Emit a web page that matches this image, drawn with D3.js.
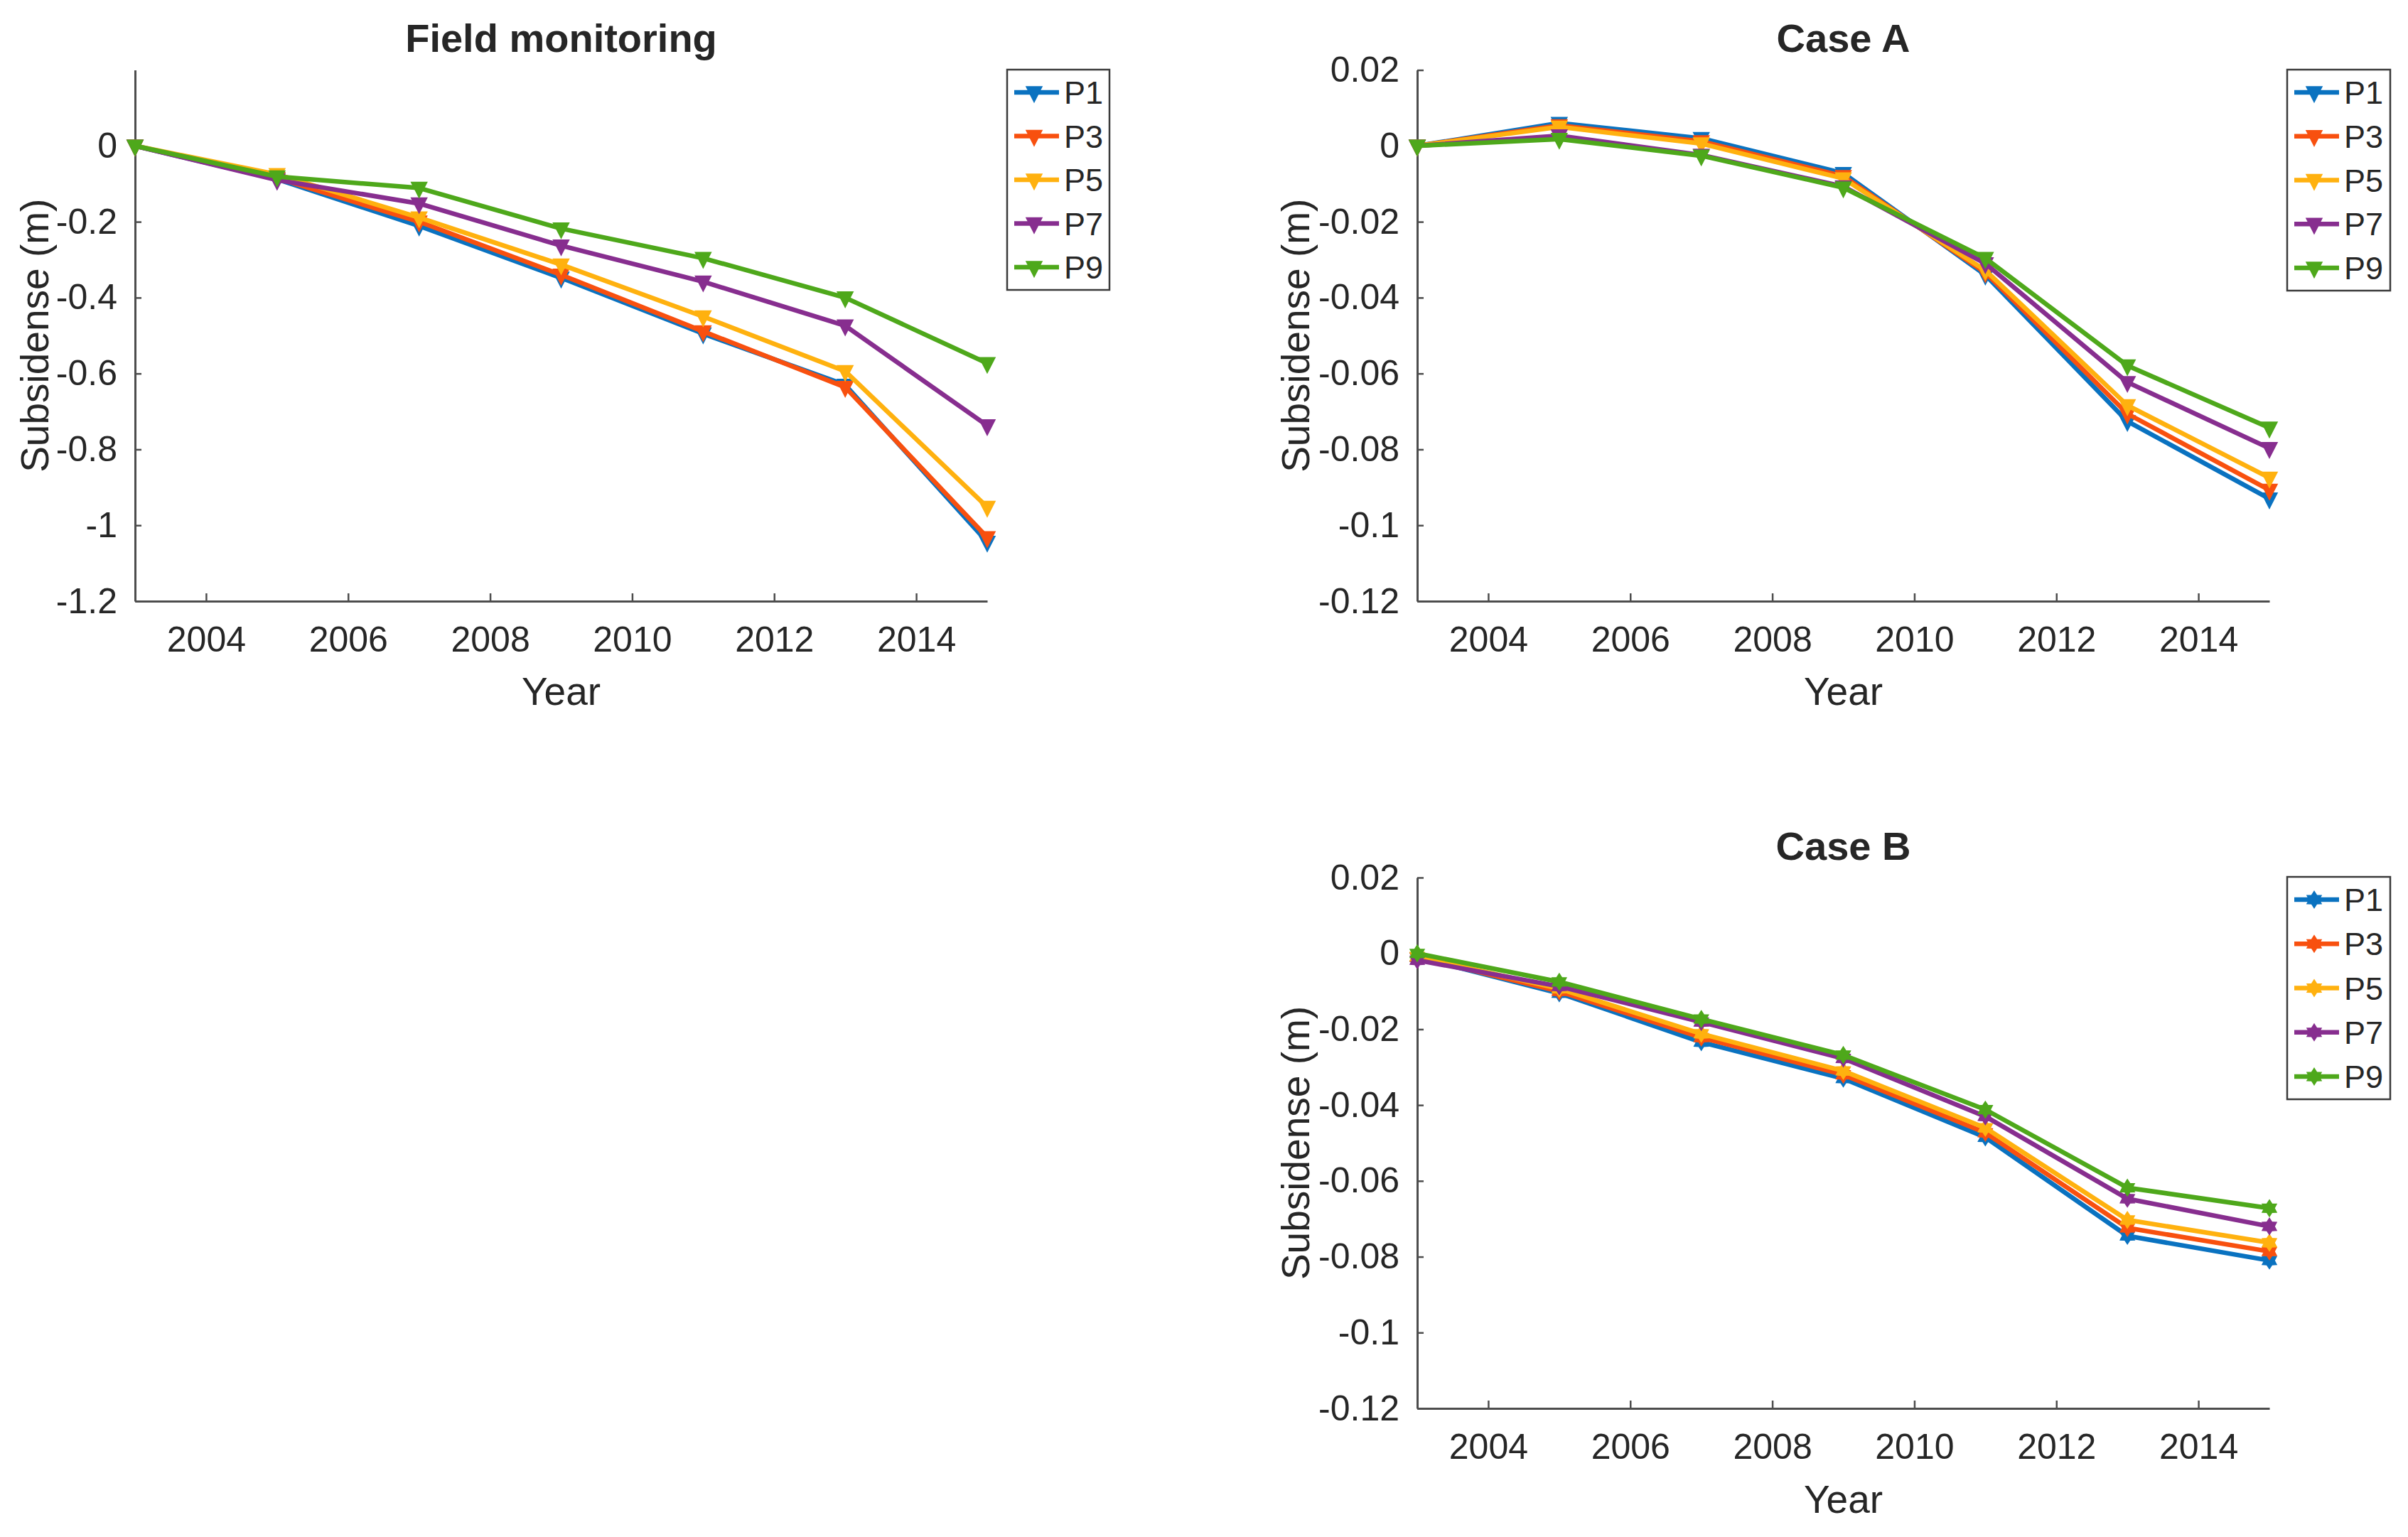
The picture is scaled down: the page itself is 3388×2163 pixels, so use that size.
<!DOCTYPE html>
<html>
<head>
<meta charset="utf-8">
<script src="https://cdn.jsdelivr.net/npm/d3@7"></script>
<style>
  body { margin: 0; background: #fff; }
  svg { display: block; }
  text { font-family: "Liberation Sans", Arial, sans-serif; fill: #262626; }
</style>
</head>
<body>
<svg id="chart" width="3388" height="2163"></svg>
<script>
// ---- data ----
var years = [2003, 2005, 2007, 2009, 2011, 2013, 2015];
var seriesNames = ["P1", "P3", "P5", "P7", "P9"];
var seriesColors = ["#0a72c0", "#f8500f", "#ffb10f", "#872e8f", "#4ea81b"];

var yearTicks = [2004, 2006, 2008, 2010, 2012, 2014];
var fieldTicks = [-1.2, -1, -0.8, -0.6, -0.4, -0.2, 0];
var caseTicks = [-0.12, -0.1, -0.08, -0.06, -0.04, -0.02, 0, 0.02];

// Field monitoring
var fieldP1 = [0, -0.088, -0.211, -0.348, -0.495, -0.630, -1.044];
var fieldP3 = [0, -0.085, -0.200, -0.340, -0.489, -0.636, -1.032];
var fieldP5 = [0, -0.075, -0.189, -0.313, -0.450, -0.594, -0.952];
var fieldP7 = [0, -0.090, -0.152, -0.263, -0.358, -0.474, -0.737];
var fieldP9 = [0, -0.081, -0.111, -0.218, -0.296, -0.400, -0.573];

// Case A
var caseAP1 = [0, 0.0060, 0.0020, -0.0072, -0.0340, -0.0726, -0.0930];
var caseAP3 = [0, 0.0054, 0.0012, -0.0080, -0.0334, -0.0706, -0.0907];
var caseAP5 = [0, 0.0050, 0.0006, -0.0086, -0.0328, -0.0684, -0.0875];
var caseAP7 = [0, 0.0027, -0.0024, -0.0107, -0.0310, -0.0623, -0.0797];
var caseAP9 = [0, 0.0018, -0.0026, -0.0110, -0.0296, -0.0579, -0.0743];

// Case B
var caseBP1 = [-0.0010, -0.0105, -0.0234, -0.0330, -0.0485, -0.0745, -0.0810];
var caseBP3 = [-0.0010, -0.0100, -0.0222, -0.0320, -0.0473, -0.0724, -0.0786];
var caseBP5 = [-0.0008, -0.0093, -0.0212, -0.0310, -0.0460, -0.0703, -0.0763];
var caseBP7 = [-0.0018, -0.0087, -0.0181, -0.0277, -0.0430, -0.0647, -0.0720];
var caseBP9 = [0.0000, -0.0075, -0.0173, -0.0268, -0.0412, -0.0618, -0.0672];

// ---- marker shapes ----
var triDown = {
  draw: function(ctx, size) {
    ctx.moveTo(-11, -8);
    ctx.lineTo(11, -8);
    ctx.lineTo(0, 13.5);
    ctx.closePath();
  }
};
var hexagram = {
  draw: function(ctx, size) {
    var ro = 11.5, ri = 7;
    for (var i = 0; i < 12; i++) {
      var r = i % 2 == 0 ? ro : ri;
      var a = -Math.PI / 2 + i * Math.PI / 6;
      if (i == 0) ctx.moveTo(r * Math.cos(a), r * Math.sin(a));
      else ctx.lineTo(r * Math.cos(a), r * Math.sin(a));
    }
    ctx.closePath();
  }
};

// ---- panel layout ----
var panels = [
  {
    title: "Field monitoring", series: [fieldP1, fieldP3, fieldP5, fieldP7, fieldP9],
    left: 190, right: 1389, top: 98.5, bottom: 846,
    domain: [-1.2, 0.2], ticks: fieldTicks, marker: triDown,
    titleY: 73, yLabelX: 68, xLabelY: 992,
    legend: { x: 1417, y: 98, w: 144, h: 310 }
  },
  {
    title: "Case A", series: [caseAP1, caseAP3, caseAP5, caseAP7, caseAP9],
    left: 1994, right: 3193, top: 98.5, bottom: 846,
    domain: [-0.12, 0.02], ticks: caseTicks, marker: triDown,
    titleY: 73, yLabelX: 1842, xLabelY: 992,
    legend: { x: 3218, y: 98, w: 145, h: 311 }
  },
  {
    title: "Case B", series: [caseBP1, caseBP3, caseBP5, caseBP7, caseBP9],
    left: 1994, right: 3193, top: 1235, bottom: 1982,
    domain: [-0.12, 0.02], ticks: caseTicks, marker: hexagram,
    titleY: 1209.5, yLabelX: 1842, xLabelY: 2128.5,
    legend: { x: 3218, y: 1234, w: 145, h: 313 }
  }
];

var svg = d3.select("#chart");
var fmt = function(v) { return String(+v.toFixed(4)); };

panels.forEach(function(p) {
  var x = d3.scaleLinear().domain([2003, 2015]).range([p.left, p.right]);
  var y = d3.scaleLinear().domain(p.domain).range([p.bottom, p.top]);
  var g = svg.append("g");

  // axes (MATLAB style: inward ticks, no box)
  var xAxis = g.append("g")
    .attr("transform", "translate(0," + p.bottom + ")")
    .call(d3.axisBottom(x).tickValues(yearTicks).tickFormat(d3.format("d"))
      .tickSizeInner(-11).tickSizeOuter(0).tickPadding(35));
  var yAxis = g.append("g")
    .attr("transform", "translate(" + p.left + ",0)")
    .call(d3.axisLeft(y).tickValues(p.ticks).tickFormat(fmt)
      .tickSizeInner(-9).tickSizeOuter(0).tickPadding(25));

  [xAxis, yAxis].forEach(function(a) {
    a.select(".domain").attr("stroke", "#4d4d4d").attr("stroke-width", 3);
    a.selectAll(".tick line").attr("stroke", "#4d4d4d").attr("stroke-width", 2.5);
    a.selectAll(".tick text").attr("fill", "#262626")
      .style("font-size", "50px").style("font-family", "'Liberation Sans', Arial, sans-serif");
  });

  // series lines + markers, drawn in order so P9 ends on top
  var line = d3.line().x(function(d, i) { return x(years[i]); }).y(function(d) { return y(d); });
  var sym = d3.symbol().type(p.marker);
  p.series.forEach(function(vals, k) {
    g.append("path")
      .attr("d", line(vals))
      .attr("fill", "none")
      .attr("stroke", seriesColors[k])
      .attr("stroke-width", 6.5)
      .attr("stroke-linejoin", "round");
    g.selectAll(null).data(vals).enter().append("path")
      .attr("d", sym)
      .attr("transform", function(d, i) { return "translate(" + x(years[i]) + "," + y(d) + ")"; })
      .attr("fill", seriesColors[k])
      .attr("stroke", seriesColors[k])
      .attr("stroke-width", 1.5);
  });

  // title and axis labels
  g.append("text")
    .attr("x", (p.left + p.right) / 2).attr("y", p.titleY)
    .attr("text-anchor", "middle")
    .style("font-size", "56px").style("font-weight", "bold")
    .attr("fill", "#000")
    .text(p.title);
  g.append("text")
    .attr("x", (p.left + p.right) / 2).attr("y", p.xLabelY)
    .attr("text-anchor", "middle")
    .style("font-size", "55px")
    .text("Year");
  g.append("text")
    .attr("transform", "translate(" + p.yLabelX + "," + (p.top + p.bottom) / 2 + ") rotate(-90)")
    .attr("text-anchor", "middle")
    .style("font-size", "55px")
    .text("Subsidense (m)");

  // legend
  var L = p.legend;
  var lg = g.append("g").attr("transform", "translate(" + L.x + "," + L.y + ")");
  lg.append("rect")
    .attr("width", L.w).attr("height", L.h)
    .attr("fill", "#fff").attr("stroke", "#3a3a3a").attr("stroke-width", 2.5);
  var step = (L.h - 64) / (seriesNames.length - 1);
  seriesNames.forEach(function(name, k) {
    var cy = 32 + k * step;
    lg.append("line")
      .attr("x1", 10).attr("x2", 73).attr("y1", cy).attr("y2", cy)
      .attr("stroke", seriesColors[k]).attr("stroke-width", 6.5);
    lg.append("path")
      .attr("d", sym())
      .attr("transform", "translate(38," + cy + ")")
      .attr("fill", seriesColors[k]).attr("stroke", seriesColors[k]).attr("stroke-width", 1.5);
    lg.append("text")
      .attr("x", 80).attr("y", cy + 16)
      .style("font-size", "45px")
      .attr("fill", "#000")
      .text(name);
  });
});
</script>
</body>
</html>
